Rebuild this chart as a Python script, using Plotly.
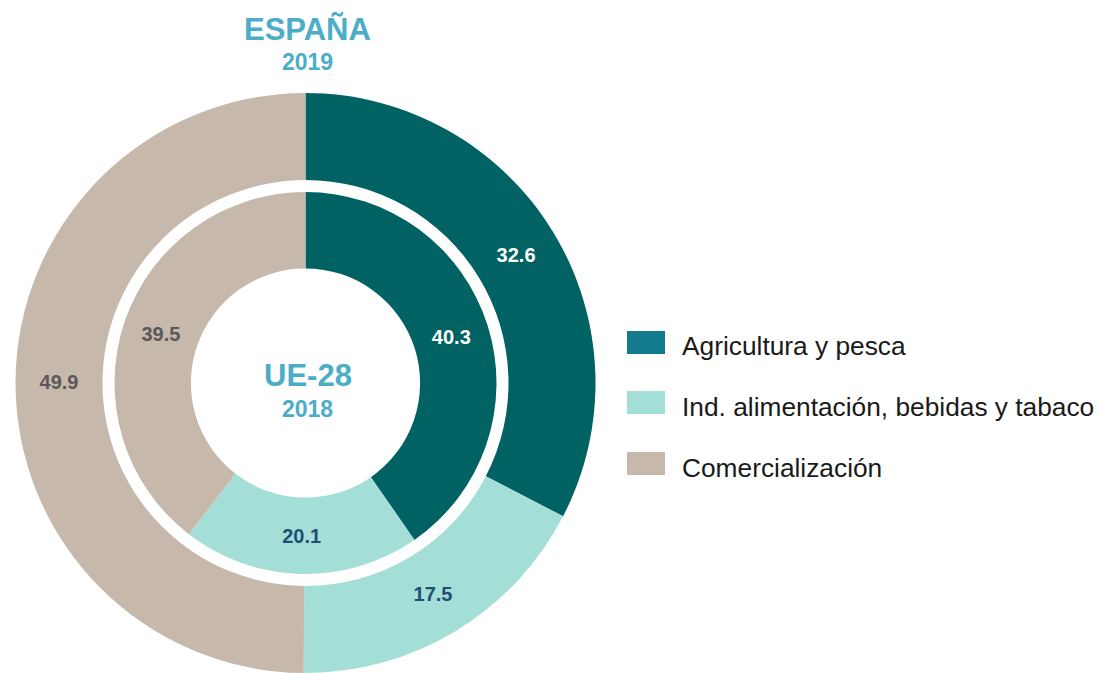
import plotly.graph_objects as go

W, H = 1100, 673

categories = ["Agricultura y pesca", "Ind. alimentación, bebidas y tabaco", "Comercialización"]
espana_2019 = [32.6, 17.5, 49.9]
ue28_2018 = [40.3, 20.1, 39.5]

slice_colors = ["#006262", "#a3dfd6", "#c6b8ab"]
legend_colors = ["#137b8d", "#a3dfd6", "#c6b8ab"]
text_colors = ["#ffffff", "#1f4e79", "#595959"]
title_color = "#4badc6"
FONT = "Liberation Sans, Arial, sans-serif"


def px_x(x):
    return x / W


def px_y(y):
    return 1 - y / H


fig = go.Figure()

# Outer ring: España 2019
fig.add_trace(go.Pie(
    labels=categories, values=espana_2019,
    sort=False, direction="clockwise", rotation=0,
    hole=0.70,
    domain=dict(x=[px_x(15.5), px_x(595.5)], y=[0, px_y(93)]),
    marker=dict(colors=slice_colors, line=dict(width=0)),
    textinfo="value", textposition="inside",
    insidetextorientation="horizontal",
    texttemplate="%{value:.1f}",
    insidetextfont=dict(family=FONT, size=20, color=text_colors, weight="bold"),
    showlegend=False, hoverinfo="label+value",
))

# Inner ring: UE-28 2018
fig.add_trace(go.Pie(
    labels=categories, values=ue28_2018,
    sort=False, direction="clockwise", rotation=0,
    hole=0.60,
    domain=dict(x=[px_x(114.5), px_x(496.5)], y=[px_y(574), px_y(192)]),
    marker=dict(colors=slice_colors, line=dict(width=0)),
    textinfo="value", textposition="inside",
    insidetextorientation="horizontal",
    texttemplate="%{value:.1f}",
    insidetextfont=dict(family=FONT, size=20, color=text_colors, weight="bold"),
    showlegend=False, hoverinfo="label+value",
))

annotations = [
    dict(text="<b>ESPAÑA</b>", x=px_x(307), y=px_y(30), font=dict(size=31, color=title_color, family=FONT)),
    dict(text="<b>2019</b>", x=px_x(307), y=px_y(62), font=dict(size=23, color=title_color, family=FONT)),
    dict(text="<b>UE-28</b>", x=px_x(308), y=px_y(375), font=dict(size=31, color=title_color, family=FONT)),
    dict(text="<b>2018</b>", x=px_x(307), y=px_y(409), font=dict(size=23, color=title_color, family=FONT)),
]
for a in annotations:
    a.update(xref="paper", yref="paper", showarrow=False, xanchor="center", yanchor="middle")

shapes = []
row_centers = [342.5, 402.5, 463.5]
for cat, col, yc in zip(categories, legend_colors, row_centers):
    shapes.append(dict(type="rect", xref="paper", yref="paper",
                       x0=px_x(627), x1=px_x(665), y0=px_y(yc + 11.5), y1=px_y(yc - 11.5),
                       fillcolor=col, line=dict(width=0)))
    annotations.append(dict(text=cat, xref="paper", yref="paper", showarrow=False,
                            x=px_x(680), y=px_y(yc + 4), xanchor="left", yanchor="middle",
                            font=dict(size=26.3, color="#1a1a1a", family=FONT)))

fig.update_layout(
    width=W, height=H,
    margin=dict(l=0, r=0, t=0, b=0),
    paper_bgcolor="white", plot_bgcolor="white",
    annotations=annotations, shapes=shapes,
    showlegend=False,
    uniformtext=dict(minsize=10, mode="show"),
)

fig.write_html(
    "out.html",
    config={"displayModeBar": False},
    post_script="document.body.style.margin='0px';document.body.style.overflow='hidden';",
)
